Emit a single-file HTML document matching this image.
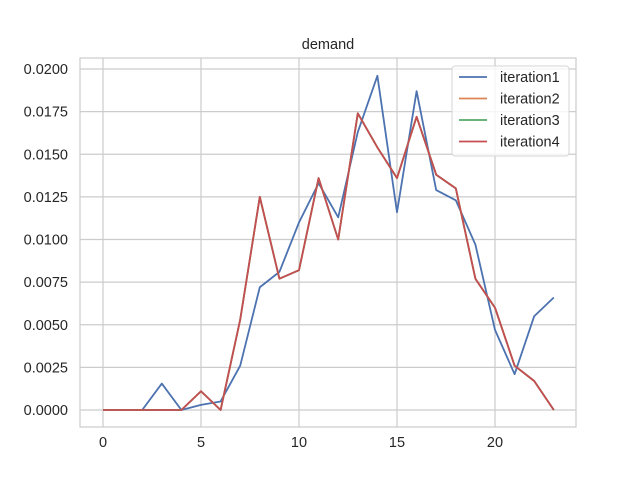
<!DOCTYPE html>
<html><head><meta charset="utf-8"><style>
body{margin:0;background:#fff;font-family:"Liberation Sans","DejaVu Sans",sans-serif}
</style></head><body>
<svg width="640" height="480" xmlns="http://www.w3.org/2000/svg">
<g id="grid"></g>
<rect x="80" y="58" width="496" height="369" fill="none" stroke="#cccccc" stroke-width="1.2"/>
<g id="ticks" font-size="14.5" fill="#262626"></g>
<g id="lines"></g>
<text x="328" y="49" text-anchor="middle" font-size="14.5" fill="#262626">demand</text>
<g id="legend"></g>
</svg>
<script>
const xs = Array.from({length:24},(_, i)=>i);
const iteration1 = [0,0,0,0.00155,0,0.0003,0.0005,0.0026,0.0072,0.0081,0.011,0.0133,0.0113,0.0163,0.0196,0.0116,0.0187,0.0129,0.0123,0.0097,0.0047,0.0021,0.0055,0.0066];
const iteration4 = [0,0,0,0,0,0.0011,0,0.0053,0.0125,0.0077,0.0082,0.0136,0.0100,0.0174,0.0154,0.0136,0.0172,0.0138,0.0130,0.0077,0.0060,0.0026,0.0017,0];
const iteration2 = iteration4.slice();
const iteration3 = iteration4.slice();
const xTicks = [0,5,10,15,20];
const yTicks = [0,0.0025,0.005,0.0075,0.01,0.0125,0.015,0.0175,0.02];
const names = ["iteration1","iteration2","iteration3","iteration4"];
const colors = ["#4c72b0","#dd8452","#55a868","#c44e52"];
const series = [iteration1,iteration2,iteration3,iteration4];
const NS="http://www.w3.org/2000/svg";
const X=v=>103+v*19.6, Y=v=>410-v/0.02*341;
function mk(t,a,p){const e=document.createElementNS(NS,t);for(const k in a)e.setAttribute(k,a[k]);p.appendChild(e);return e;}
const grid=document.getElementById('grid'),ticks=document.getElementById('ticks'),lines=document.getElementById('lines'),leg=document.getElementById('legend');
xTicks.forEach(t=>{
 const l=mk('line',{x1:X(t),x2:X(t),y1:58,y2:427,stroke:'#cccccc','stroke-width':1.2},grid);
 
 
 const tx=mk('text',{x:X(t),y:447,'text-anchor':'middle'},ticks);tx.textContent=t;
 
 
});
yTicks.forEach(t=>{
 const l=mk('line',{x1:80,x2:576,y1:Y(t),y2:Y(t),stroke:'#cccccc','stroke-width':1.2},grid);
 
 
 const tx=mk('text',{x:68,y:Y(t)+5,'text-anchor':'end'},ticks);tx.textContent=t.toFixed(4);
 
 
});
series.forEach((s,i)=>{
 const p=mk('polyline',{points:s.map((v,j)=>X(xs[j])+','+Y(v)).join(' '),fill:'none',stroke:colors[i],'stroke-width':1.8,'stroke-linejoin':'round'},lines);
 
 
});
const box=mk('rect',{x:452,y:66,width:117,height:90,rx:3,fill:'#fff','fill-opacity':0.8,stroke:'#d6d6d6'},leg);


names.forEach((n,i)=>{
 const y=77+i*21.5;
 const l=mk('line',{x1:459,x2:487,y1:y,y2:y,stroke:colors[i],'stroke-width':1.8},leg);
 
 
 const t=mk('text',{x:500,y:y+5,'font-size':14.5,fill:'#262626'},leg);t.textContent=n;
 
 
});
</script>
</body></html>
